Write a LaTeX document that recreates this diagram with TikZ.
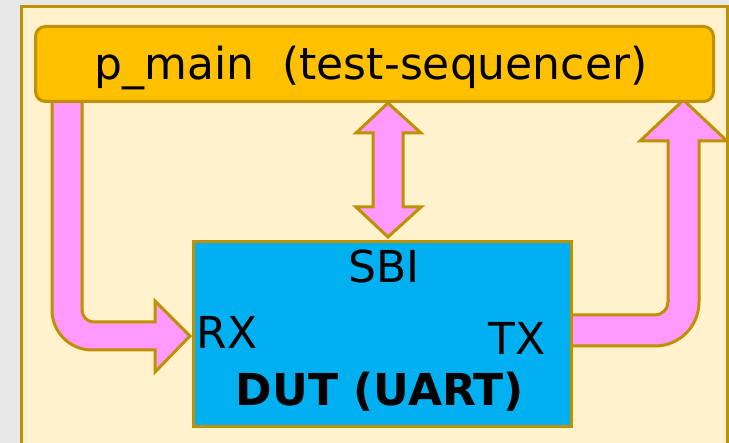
\documentclass[tikz,border=0pt]{standalone}
\usepackage{fontspec}
\setmainfont{DejaVu Sans}
\definecolor{pagegray}{HTML}{E8E8E8}
\definecolor{cream}{HTML}{FFF2CC}
\definecolor{gold}{HTML}{BF9000}
\definecolor{amber}{HTML}{FFC000}
\definecolor{pinkflow}{HTML}{FF99FF}
\definecolor{skyblue}{HTML}{00B0F0}
\tikzset{
  outline/.style={draw=gold, line width=3pt, line join=miter},
  blockarrow/.style={outline, fill=pinkflow},
  bigtext/.style={font=\fontsize{44}{52}\selectfont, inner sep=0pt, text=black},
}
\begin{document}
\begin{tikzpicture}[x=1pt, y=-1pt]
  \useasboundingbox (0,0) rectangle (729,443);
  \fill[pagegray] (0,0) rectangle (729,443);
  \clip (0,0) rectangle (729,443);

  % outer frame
  \draw[outline, fill=cream] (21,7) rectangle (727,470);

  % SBI double arrow between sequencer and DUT
  \draw[blockarrow] (388,103) -- (421,133) -- (403,133) -- (403,207) -- (421,207)
    -- (388,237) -- (356,207) -- (373,207) -- (373,133) -- (356,133) -- cycle;

  % RX stimulus path: sequencer down and into the DUT
  \draw[blockarrow] (52,95) -- (52,310) arc (180:90:40) -- (155,350) -- (155,372)
    -- (190,336) -- (155,301) -- (155,322) -- (94,322) arc (90:180:12) -- (82,95) -- cycle;

  % TX response path: DUT out and up to the sequencer
  \draw[blockarrow] (565,346) -- (655,346) arc (90:0:44) -- (699,141) -- (727,141)
    -- (683.5,100) -- (640,141) -- (668,141) -- (668,302) arc (0:90:13) -- (565,315) -- cycle;

  % test sequencer
  \node[outline, fill=amber, rounded corners=10pt, minimum width=678pt, minimum height=75pt,
        anchor=north west, inner sep=0pt] (seq) at (34,25) {};
  \node[bigtext, anchor=base] (seqlabel) at (371,80) {p\_main\ \ (test-sequencer)};

  % device under test
  \node[outline, fill=skyblue, minimum width=378pt, minimum height=185pt,
        anchor=north west, inner sep=0pt] (dut) at (192,240) {};
  \node[bigtext, anchor=base] (sbi) at (384,283) {SBI};
  \node[bigtext, anchor=base] (rx) at (227,349) {RX};
  \node[bigtext, anchor=base] (tx) at (517,355) {TX};
  \node[bigtext, anchor=base, font=\fontsize{44}{52}\selectfont\bfseries] (dutlabel) at (380,406) {DUT (UART)};
\end{tikzpicture}
\end{document}
